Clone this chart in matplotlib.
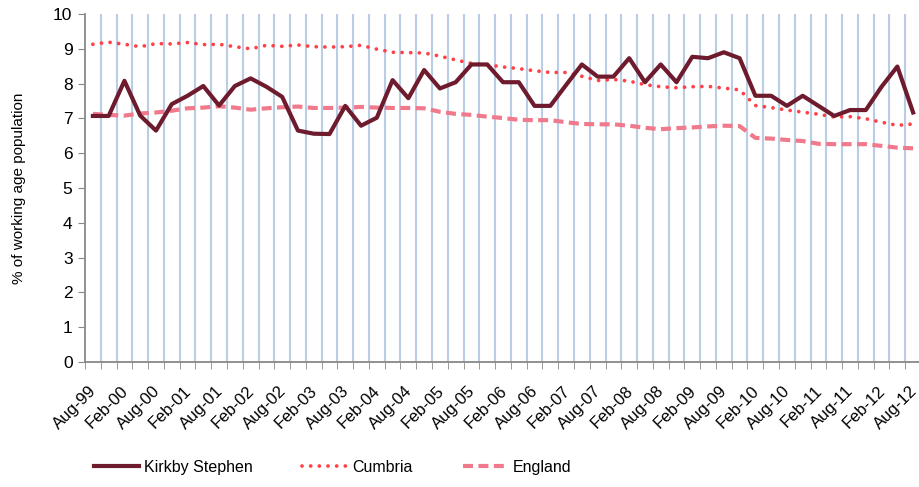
import numpy as np
import matplotlib
matplotlib.use('Agg')
import matplotlib.pyplot as plt
import matplotlib.transforms as mtransforms

plt.rcParams['font.family'] = ['Liberation Sans', 'DejaVu Sans']

# quarterly points Aug-99 .. Aug-12, labels shown every 6 months
tick_labels = ['Aug-99', 'Feb-00', 'Aug-00', 'Feb-01', 'Aug-01', 'Feb-02', 'Aug-02',
               'Feb-03', 'Aug-03', 'Feb-04', 'Aug-04', 'Feb-05', 'Aug-05', 'Feb-06',
               'Aug-06', 'Feb-07', 'Aug-07', 'Feb-08', 'Aug-08', 'Feb-09', 'Aug-09',
               'Feb-10', 'Aug-10', 'Feb-11', 'Aug-11', 'Feb-12', 'Aug-12']

kirkby = [7.07, 7.07, 8.08, 7.08, 6.65, 7.41, 7.65, 7.93, 7.37, 7.93, 8.15, 7.91, 7.62,
          6.65, 6.56, 6.55, 7.36, 6.79, 7.02, 8.10, 7.58, 8.39, 7.86, 8.04, 8.55, 8.55,
          8.04, 8.04, 7.36, 7.36, 7.96, 8.55, 8.20, 8.20, 8.73, 8.04, 8.55, 8.04, 8.77,
          8.73, 8.90, 8.73, 7.65, 7.65, 7.36, 7.65, 7.36, 7.07, 7.24, 7.24, 7.91, 8.49,
          7.17]
cumbria = [9.13, 9.19, 9.13, 9.06, 9.15, 9.14, 9.18, 9.12, 9.13, 9.06, 9.00, 9.10, 9.07,
           9.11, 9.06, 9.05, 9.06, 9.10, 8.99, 8.90, 8.89, 8.88, 8.79, 8.68, 8.58, 8.54,
           8.48, 8.43, 8.37, 8.32, 8.32, 8.21, 8.09, 8.12, 8.07, 7.97, 7.91, 7.88, 7.91,
           7.92, 7.87, 7.82, 7.37, 7.31, 7.24, 7.18, 7.12, 7.04, 7.05, 6.99, 6.89, 6.80,
           6.84]
england = [7.13, 7.10, 7.08, 7.14, 7.17, 7.22, 7.29, 7.31, 7.35, 7.31, 7.25, 7.29, 7.32,
           7.34, 7.30, 7.30, 7.31, 7.33, 7.31, 7.30, 7.30, 7.29, 7.19, 7.13, 7.10, 7.05,
           7.01, 6.96, 6.95, 6.95, 6.89, 6.84, 6.83, 6.83, 6.79, 6.73, 6.69, 6.72, 6.74,
           6.77, 6.79, 6.78, 6.44, 6.42, 6.38, 6.35, 6.27, 6.26, 6.26, 6.26, 6.21, 6.16,
           6.14]

n = len(kirkby)
x = np.arange(n)

fig = plt.figure(figsize=(9.19, 4.87), dpi=100)
ax = fig.add_axes([85/919, 1 - 362/487, 836/919, 348/487])

# vertical grid at category boundaries
for b in np.arange(0.5, n - 0.5, 1):
    ax.axvline(b, color='#b9cde5', lw=1.5, zorder=1)

ax.plot(x, kirkby, color='#6e1b2e', lw=3.0, label='Kirkby Stephen', zorder=4)
ax.plot(x, cumbria, color='#ff4048', lw=2.7, linestyle=(0, (0.01, 2.3)),
        dash_capstyle='round', label='Cumbria', zorder=3)
ax.plot(x, england, color='#f07a8c', lw=3.0, linestyle=(0, (2.4, 1.3)),
        label='England', zorder=2)

ax.set_xlim(-0.5, n - 0.5)
ax.set_ylim(0, 10)
ax.set_yticks(range(0, 11))
ax.tick_params(axis='y', labelsize=12.5, length=5, color='#888888', pad=4)

ax.set_xticks(x[::2])
ax.set_xticklabels(tick_labels, rotation=45, ha='right', va='top',
                   rotation_mode='anchor', fontsize=12)
ax.set_xticks(np.arange(-0.5, n, 1), minor=True)
ax.tick_params(axis='x', which='major', length=0, pad=15)
ax.tick_params(axis='x', which='minor', length=5, color='#888888')
shift = mtransforms.ScaledTranslation(-4/100, 0, fig.dpi_scale_trans)
for lab in ax.get_xticklabels():
    lab.set_transform(lab.get_transform() + shift)

for s in ['top', 'right']:
    ax.spines[s].set_visible(False)
for s in ['left', 'bottom']:
    ax.spines[s].set_color('#888888')
    ax.spines[s].set_linewidth(1.3)

ax.set_ylabel('% of working age population', fontsize=11)
ax.yaxis.set_label_coords(-59/836, 0.5)

fig.legend(loc='center', bbox_to_anchor=(0.362, 0.04), ncol=3, frameon=False,
           fontsize=11.5, handlelength=2.8, handletextpad=0.35, columnspacing=3.1)

fig.savefig('out.png', dpi=100)
